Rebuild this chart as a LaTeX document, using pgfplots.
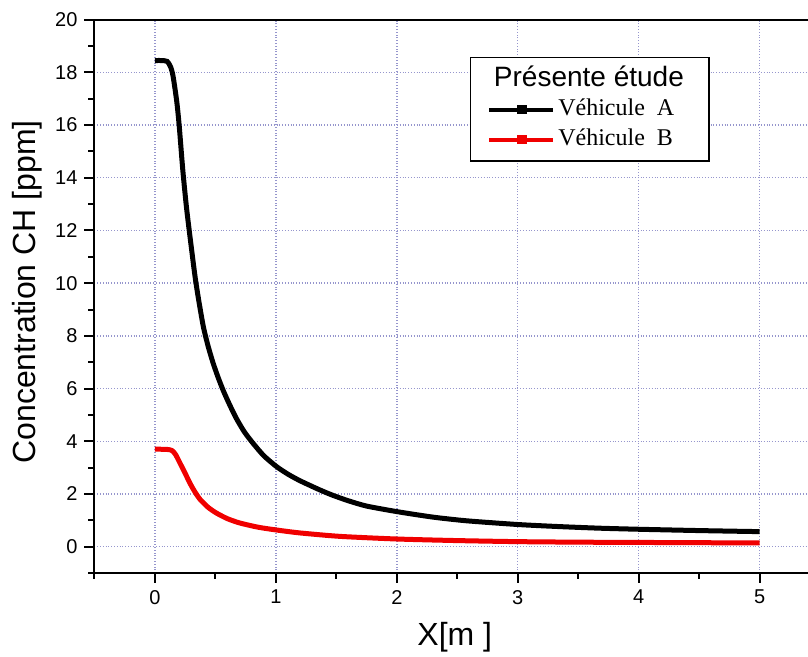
\documentclass[border=0pt]{standalone}
\usepackage{fontspec}
\setmainfont{Liberation Sans}
\newfontfamily\timesf{Liberation Serif}
\usepackage{pgfplots}
\pgfplotsset{compat=1.18}
\definecolor{gridc}{RGB}{150,150,205}
\definecolor{myred}{RGB}{240,0,0}

\pgfplotstableread{
x y
0 18.45
0.05 18.45
0.10 18.42
0.13 18.20
0.15 17.85
0.18 16.90
0.20 16.00
0.23 14.30
0.26 12.90
0.29 11.75
0.33 10.30
0.36 9.40
0.40 8.35
0.44 7.60
0.48 6.98
0.52 6.45
0.565 5.92
0.62 5.36
0.675 4.85
0.74 4.35
0.81 3.93
0.90 3.45
1.005 3.04
1.10 2.75
1.20 2.50
1.36 2.16
1.47 1.95
1.60 1.74
1.75 1.54
2.00 1.33
2.30 1.12
2.58 0.98
3.00 0.84
3.35 0.76
3.68 0.70
4.00 0.66
4.50 0.61
5.00 0.57
}\dataA

\pgfplotstableread{
x y
0 3.70
0.10 3.69
0.14 3.65
0.17 3.50
0.207 3.17
0.25 2.78
0.289 2.41
0.33 2.08
0.372 1.80
0.44 1.49
0.51 1.27
0.60 1.06
0.70 0.90
0.85 0.74
1.00 0.635
1.20 0.52
1.53 0.39
2.00 0.29
2.50 0.23
3.00 0.19
3.50 0.17
4.00 0.16
4.50 0.15
5.00 0.14
}\dataB

\begin{document}
\begin{tikzpicture}
\begin{axis}[
 width=356.75pt, height=276.65pt, scale only axis,
 xmin=-0.5, xmax=5.4, ymin=-1, ymax=20,
 axis x line*=bottom, axis y line*=left,
 axis line style={line width=1pt, black},
 clip=false,
 xtick={0,1,2,3,4,5}, minor xtick={-0.5,0.5,1.5,2.5,3.5,4.5},
 ytick={0,2,...,20}, minor ytick={-1,1,...,19},
 tick align=outside,
 major tick length=5pt, minor tick length=3pt,
 every tick/.style={black, line width=1pt},
 grid=major,
 grid style={gridc, densely dotted, line width=0.7pt},
 /pgf/number format/assume math mode=true,
 ticklabel style={font=\fontsize{10}{12}\selectfont},
 xlabel={X[m ]}, ylabel={Concentration CH [ppm]},
 label style={font=\fontsize{16}{18}\selectfont},
 xlabel style={at={(rel axis cs:0.505,-0.116)}, anchor=center},
 ylabel style={at={(rel axis cs:-0.0946,0.508)}, anchor=center},
 legend style={draw=none, fill=none, at={(rel axis cs:0.550,0.860)}, anchor=north west,
   inner sep=0pt, row sep=3pt, font=\timesf\fontsize{12}{14}\selectfont,
   nodes={inner xsep=1.5pt, inner ysep=0pt, text height=9pt, text depth=3pt}},
 legend cell align=left,
 legend image code/.code={\draw[#1,line width=2pt] (0pt,0pt) -- (32pt,0pt); \fill[#1] (15pt,-1.2pt) rectangle (17.4pt,1.2pt);},
]
\addplot[color=black, line width=2.5pt, smooth, tension=0.4] table[x=x,y=y] {\dataA};
\addlegendentry{V\'ehicule\ \ A}
\addplot[color=myred, line width=2.5pt, smooth, tension=0.4] table[x=x,y=y] {\dataB};
\addlegendentry{V\'ehicule\ \ B}
\draw[fill=white, line width=0.8pt] (rel axis cs:0.527,0.745) rectangle (rel axis cs:0.861,0.932);
\node[anchor=base, font=\fontsize{14}{16}\selectfont] at (rel axis cs:0.693,0.879) {Présente étude};
\draw[line width=1pt] (rel axis cs:0,1) -- (rel axis cs:1,1);
\end{axis}
\pgfresetboundingbox
\path ([xshift=-47.25pt,yshift=-42pt]current axis.south west) rectangle ([yshift=9.85pt]current axis.north east);
\end{tikzpicture}
\end{document}
